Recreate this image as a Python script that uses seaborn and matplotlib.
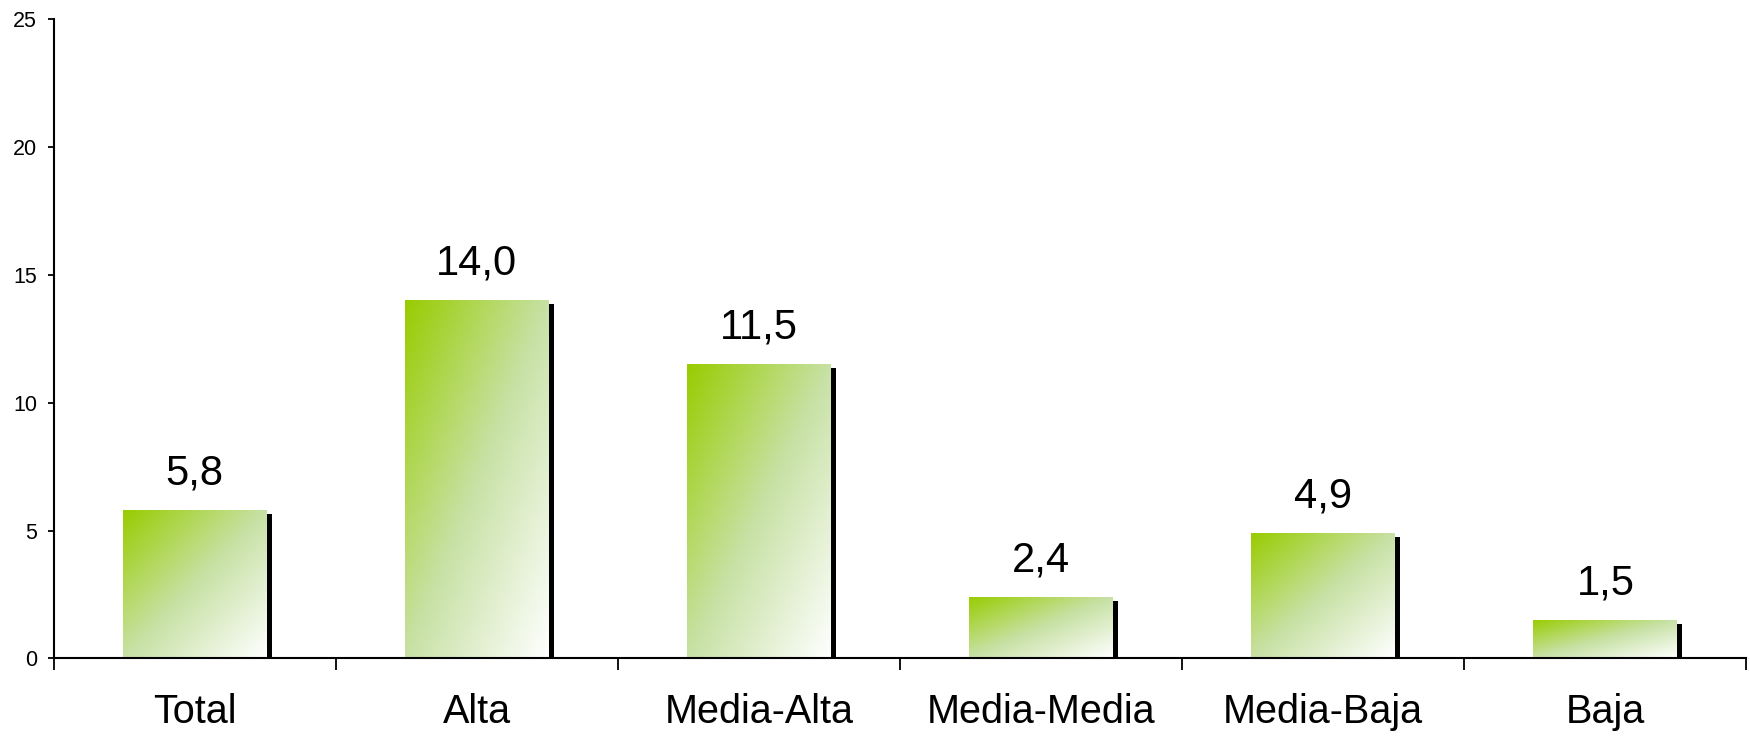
import numpy as np
import pandas as pd
import matplotlib
matplotlib.use("Agg")
import matplotlib.pyplot as plt
import matplotlib.patheffects as pe
from matplotlib.colors import LinearSegmentedColormap
import seaborn as sns

# ----------------------------
# Data
# ----------------------------

categories = ["Total", "Alta", "Media-Alta", "Media-Media", "Media-Baja", "Baja"]
values = [5.8, 14.0, 11.5, 2.4, 4.9, 1.5]
y_ticks = [0, 5, 10, 15, 20, 25]

df = pd.DataFrame({"grupo": categories, "valor": values})

sns.set_style("white")
plt.rcParams["font.family"] = ["Liberation Sans", "DejaVu Sans"]
plt.rcParams["text.color"] = "black"
plt.rcParams["xtick.color"] = "black"
plt.rcParams["ytick.color"] = "black"

fig = plt.figure(figsize=(17.5, 7.36), dpi=100)
ax = fig.add_axes([0.0306, 0.1053, 0.9674, 0.8689])

sns.barplot(
    data=df,
    x="grupo",
    y="valor",
    color="white",
    width=0.51,
    linewidth=0,
    ax=ax
)

# green -> white diagonal gradient inside every bar
green = LinearSegmentedColormap.from_list(
    "green_fade", [(0, "#99cc00"), (0.5, "#c7e1a4"), (1, "#ffffff")]
)
u = np.linspace(0, 1, 200)
grad = (u[None, :] + u[:, None]) / 2

for bar in ax.patches:
    bar.set_path_effects([
        pe.SimplePatchShadow(offset=(3.6, -2.6), shadow_rgbFace="black", alpha=1.0),
        pe.Normal()
    ])
    x0, y0 = bar.get_x(), bar.get_y()
    w, h = bar.get_width(), bar.get_height()
    img = ax.imshow(
        grad, cmap=green, vmin=0, vmax=1, aspect="auto",
        extent=[x0, x0 + w, y0, y0 + h], origin="upper",
        interpolation="bilinear", zorder=bar.get_zorder() + 0.1
    )
    img.set_clip_path(bar)

# value labels
for i, v in enumerate(values):
    ax.annotate(
        f"{v:.1f}".replace(".", ","),
        xy=(i, v), xytext=(0, 18.5), textcoords="offset points",
        ha="center", va="baseline", fontsize=30, color="black"
    )

ax.set_xlim(-0.5, len(categories) - 0.5)
ax.set_ylim(0, 25)
ax.set_yticks(y_ticks)
ax.set_yticklabels([str(t) for t in y_ticks], fontsize=15.5)

# major ticks between categories, labels on minor ticks at centres
ax.set_xticks(np.arange(-0.5, len(categories), 1.0))
ax.set_xticklabels([])
ax.set_xticks(np.arange(len(categories)), minor=True)
ax.set_xticklabels(categories, minor=True, fontsize=28.5)
ax.tick_params(axis="x", which="major", direction="out", length=8.6, width=1.3,
               color="black", bottom=True)
ax.tick_params(axis="x", which="minor", length=0, pad=24.5, labelcolor="black")
ax.tick_params(axis="y", direction="out", length=4.5, width=1.3, color="black",
               left=True, pad=7.5, labelcolor="black")

ax.set_xlabel("")
ax.set_ylabel("")
sns.despine(ax=ax, top=True, right=True)
for side in ["left", "bottom"]:
    ax.spines[side].set_color("black")
    ax.spines[side].set_linewidth(1.5)

fig.savefig("out.png", dpi=100)
plt.close()
